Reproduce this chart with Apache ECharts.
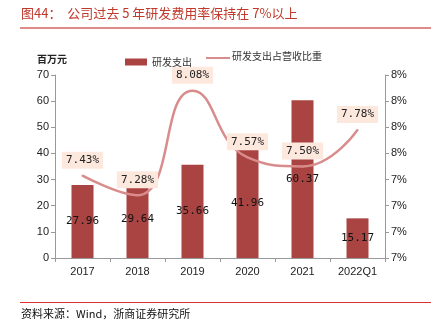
<!DOCTYPE html>
<html><head><meta charset="utf-8">
<script src="https://cdn.jsdelivr.net/npm/echarts@6/dist/echarts.min.js"></script>
<style>html,body{margin:0;padding:0;background:#fff}#c{width:440px;height:332px}</style>
</head><body><div id="c"></div>
<script>
var categories = ['2017','2018','2019','2020','2021','2022Q1'];
var rdSpend = [27.96, 29.64, 35.66, 41.96, 60.37, 15.17];
var rdRatio = [7.43, 7.28, 8.08, 7.57, 7.50, 7.78];
var leftTicks = {min: 0, max: 70, interval: 10};
var rightTicks = {min: 6.8, max: 8.2, interval: 0.2};

var chart = echarts.init(document.getElementById('c'));
var cjk = '"Noto Sans CJK SC", sans-serif';
var lineColor = '#d98c8c';
chart.setOption({
  animation: false,
  backgroundColor: '#fff',
  grid: {left: 55, right: 55, top: 75, bottom: 74},
  graphic: [
    {type: 'text', left: 21, top: 7, style: {text: '图44：  公司过去 5 年研发费用率保持在 7%以上', fill: '#c0392b', font: '13px ' + cjk}},
    {type: 'rect', shape: {x: 20, y: 27, width: 411, height: 2}, style: {fill: '#e08a8a'}},
    {type: 'text', left: 37, top: 54, style: {text: '百万元', fill: '#222', font: 'bold 10px ' + cjk}},
    {type: 'rect', shape: {x: 206, y: 57, width: 24, height: 2}, style: {fill: lineColor}},
    {type: 'text', left: 232, top: 51, style: {text: '研发支出占营收比重', fill: '#333', font: '10px ' + cjk}},
    {type: 'rect', shape: {x: 20, y: 302, width: 411, height: 1}, style: {fill: '#e03030'}},
    {type: 'text', left: 21, top: 308, style: {text: '资料来源：Wind，浙商证券研究所', fill: '#111', font: '11px ' + cjk}}
  ],
  legend: {
    top: 52, left: 120, itemGap: 14, itemWidth: 22, itemHeight: 7,
    textStyle: {fontFamily: cjk, fontSize: 10, color: '#333'},
    data: [{name: '研发支出', icon: 'rect'}]
  },
  xAxis: {
    type: 'category', data: categories,
    axisLine: {lineStyle: {color: '#999'}},
    axisTick: {show: true, lineStyle: {color: '#999'}, length: 4},
    axisLabel: {color: '#222', fontSize: 11, fontFamily: 'Liberation Sans', margin: 8}
  },
  yAxis: [
    {type: 'value', min: leftTicks.min, max: leftTicks.max, interval: leftTicks.interval,
     axisLine: {show: true, lineStyle: {color: '#999'}},
     axisTick: {show: true, length: 4, lineStyle: {color: '#999'}},
     splitLine: {show: false},
     axisLabel: {color: '#222', fontSize: 11, fontFamily: 'Liberation Sans', margin: 6}},
    {type: 'value', min: rightTicks.min, max: rightTicks.max, interval: rightTicks.interval,
     axisLine: {show: true, lineStyle: {color: '#999'}},
     axisTick: {show: true, length: 4, lineStyle: {color: '#999'}},
     splitLine: {show: false},
     axisLabel: {color: '#222', fontSize: 11, fontFamily: 'Liberation Sans', margin: 6,
       formatter: function (v) { return Math.round(v) + '%'; }}}
  ],
  series: [
    {name: '研发支出', type: 'bar', data: rdSpend, barWidth: 22,
     itemStyle: {color: '#a94442'},
     label: {show: true, position: 'inside', color: '#111', fontSize: 11, fontFamily: 'DejaVu Sans Mono',
       formatter: function (p) { return p.value.toFixed(2); }}},
    {name: '研发支出占营收比重', type: 'line', yAxisIndex: 1, data: rdRatio, smooth: true,
     symbol: 'circle', symbolSize: 2, showSymbol: true,
     lineStyle: {color: lineColor, width: 2.5}, itemStyle: {color: lineColor},
     label: {show: true, position: 'top', distance: 6, color: '#222', fontSize: 11,
       fontFamily: 'DejaVu Sans Mono', backgroundColor: '#fde8de', padding: [3, 4],
       formatter: function (p) { return p.value.toFixed(2) + '%'; }}}
  ]
});
</script></body></html>
